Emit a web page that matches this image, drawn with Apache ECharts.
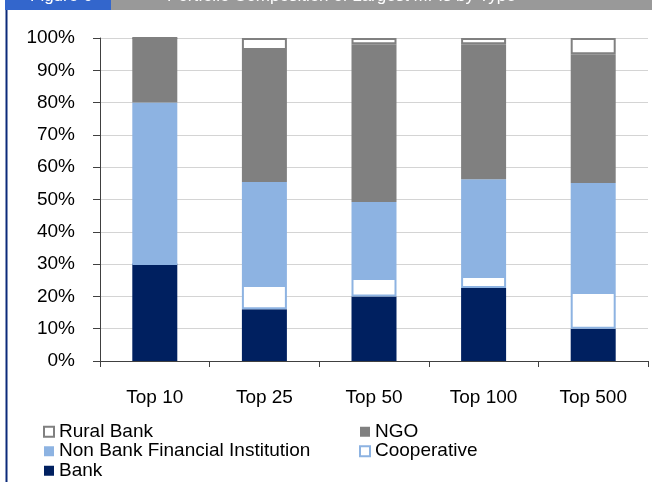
<!DOCTYPE html>
<html>
<head>
<meta charset="utf-8">
<script src="https://cdn.jsdelivr.net/npm/echarts@6/dist/echarts.min.js"></script>
<style>html,body{margin:0;padding:0;background:#fff;}#c{width:652px;height:482px;}</style>
</head>
<body>
<div id="c"></div>
<script>
var categories = ['Top 10', 'Top 25', 'Top 50', 'Top 100', 'Top 500'];
var bank = [30, 16, 20, 22.6, 10];
var cooperative = [0, 7.5, 5.7, 3.7, 11.4];
var nbfi = [50, 31.9, 23.5, 30, 33.7];
var ngo = [20, 40.9, 48.9, 41.8, 39.9];
var ruralBank = [0, 3.7, 1.9, 1.9, 5];
var yTicks = [0, 10, 20, 30, 40, 50, 60, 70, 80, 90, 100];

var FONT = 'Liberation Sans';
var chart = echarts.init(document.getElementById('c'), null, {renderer: 'canvas'});
function bar(name, data, color, border, bw) {
  return {
    name: name, type: 'bar', stack: 'all', data: data, barWidth: 45,
    itemStyle: {color: color, borderColor: border || color, borderWidth: bw || 0},
    emphasis: {disabled: true}, animation: false
  };
}
var legendBase = {orient: 'vertical', top: 422, height: 60, padding: 0, icon: 'rect',
  itemWidth: 10, itemHeight: 10, itemGap: 0, selectedMode: false,
  textStyle: {fontFamily: FONT, fontSize: 19, color: '#000', lineHeight: 19.5}};
chart.setOption({
  animation: false,
  grid: {left: 100, right: 4, top: 38, bottom: 121, containLabel: false},
  graphic: [
    {type: 'rect', shape: {x: 5, y: 0, width: 106, height: 10}, style: {fill: '#3366cc'}},
    {type: 'rect', shape: {x: 111, y: 0, width: 541, height: 10}, style: {fill: '#999999'}},
    {type: 'text', x: 30, y: -12, style: {text: 'Figure 6', fill: '#ffffff', font: '17px "Liberation Sans"'}},
    {type: 'text', x: 167, y: -12, style: {text: 'Portfolio Composition of Largest MFIs by Type', fill: '#ffffff', font: '17px "Liberation Sans"'}},
    {type: 'rect', shape: {x: 5.5, y: 10, width: 2, height: 472}, style: {fill: '#0b2a7a'}}
  ],
  legend: [
    Object.assign({}, legendBase, {data: ['Rural Bank', 'Non Bank Financial Institution', 'Bank'], left: 43}),
    Object.assign({}, legendBase, {data: ['NGO', 'Cooperative'], left: 359})
  ],
  xAxis: {
    type: 'category', data: categories,
    axisLine: {lineStyle: {color: '#404040', width: 1}},
    axisTick: {show: true, length: 6, lineStyle: {color: '#404040'}},
    axisLabel: {fontFamily: FONT, fontSize: 19, color: '#000', margin: 27}
  },
  yAxis: {
    type: 'value', min: 0, max: 100, interval: 10,
    axisLine: {show: true, lineStyle: {color: '#404040', width: 1}},
    axisTick: {show: true, length: 7, lineStyle: {color: '#404040'}},
    axisLabel: {fontFamily: FONT, fontSize: 19, color: '#000', margin: 25,
      formatter: function (v) { return yTicks.indexOf(v) >= 0 ? v + '%' : ''; }},
    splitLine: {lineStyle: {color: '#d4d4d4', width: 1}}
  },
  series: [
    bar('Bank', bank, '#002060'),
    bar('Cooperative', cooperative, '#ffffff', '#8db3e2', 2),
    bar('Non Bank Financial Institution', nbfi, '#8db3e2'),
    bar('NGO', ngo, '#808080'),
    bar('Rural Bank', ruralBank, '#ffffff', '#808080', 2)
  ]
});
</script>
</body>
</html>
